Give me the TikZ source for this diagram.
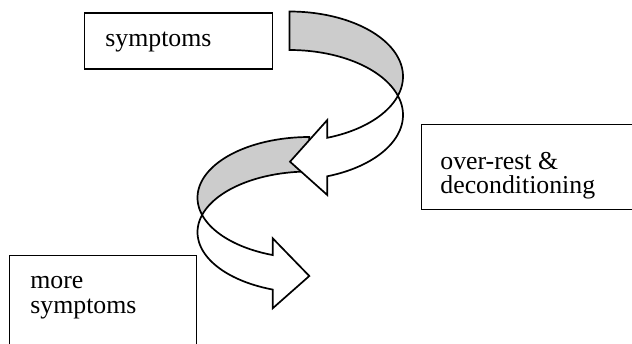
\documentclass[tikz,border=0pt]{standalone}
\usepackage{fontspec}
\setmainfont{Liberation Serif}
\definecolor{bandgray}{RGB}{204,204,204}
\begin{document}
\begin{tikzpicture}[x=0.5pt,y=-0.5pt,
  box/.style={draw=black, line width=0.7pt, fill=white, inner sep=0pt, anchor=north west},
  lbl/.style={inner sep=0pt, anchor=base west, font=\fontsize{12.9pt}{15pt}\selectfont},
  band/.style={draw=black, line width=0.85pt, line join=miter},
  back/.style={band, fill=bandgray},
  front/.style={band, fill=white}]
\clip (0,0) rectangle (632,343);
\fill[white] (0,0) rectangle (632,343);
% boxes
\node[box, minimum width=93.85pt, minimum height=28pt] (b1) at (84,12.3) {};
\node[box, minimum width=115pt, minimum height=42.5pt] (b2) at (421,124) {};
\node[box, minimum width=93.35pt, minimum height=50pt] (b3) at (9,255) {};
% texts
\node[lbl] (t1) at (105,46.7) {symptoms};
\node[lbl] (t2a) at (440,169) {over-rest \&};
\node[lbl] (t2b) at (440,193.3) {deconditioning};
\node[lbl] (t3a) at (30,288) {more};
\node[lbl] (t3b) at (30,313.3) {symptoms};
% second curved arrow (curves to the left, points right)
\path[back] plot[domain=-90:-196.5, samples=60] ({309.3+111.8*cos(\x)},{197.7+60.7*sin(\x)})
  -- plot[domain=-163.5:-90, samples=40] ({309.3+111.8*cos(\x)},{232.2+60.7*sin(\x)}) -- cycle;
\path[front] plot[domain=163.5:109.1, samples=40] ({309.3+111.8*cos(\x)},{197.7+60.7*sin(\x)})
  -- (272.7,238.3) -- (309.3,276) -- (272.7,308.3)
  -- plot[domain=109.1:196.5, samples=50] ({309.3+111.8*cos(\x)},{232.2+60.7*sin(\x)}) -- cycle;
% first curved arrow (curves to the right, points left)
\path[back] plot[domain=-90:17.2, samples=60] ({289.5+113.5*cos(\x)},{76.5+65*sin(\x)})
  -- plot[domain=-17.2:-90, samples=40] ({289.5+113.5*cos(\x)},{115+65*sin(\x)}) -- cycle;
\path[front] plot[domain=17.2:70.55, samples=40] ({289.5+113.5*cos(\x)},{76.5+65*sin(\x)})
  -- (327.3,120) -- (290,161.7) -- (327.3,195)
  -- plot[domain=70.55:-17.2, samples=50] ({289.5+113.5*cos(\x)},{115+65*sin(\x)}) -- cycle;
\end{tikzpicture}
\end{document}
